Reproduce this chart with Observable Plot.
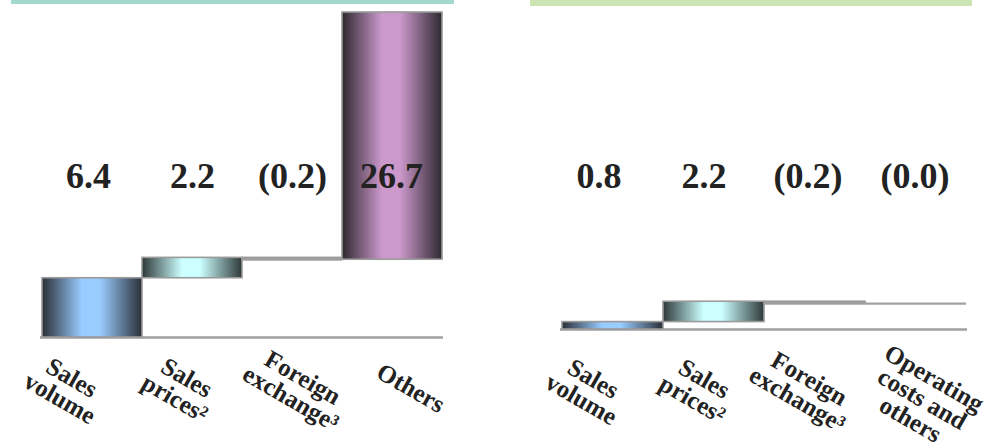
<!DOCTYPE html>
<html>
<head>
<meta charset="utf-8">
<script src="https://cdn.jsdelivr.net/npm/d3@7"></script>
<script src="https://cdn.jsdelivr.net/npm/@observablehq/plot@0.6"></script>
<style>
  html, body { margin: 0; padding: 0; background: #fff; }
  #wrap { position: relative; width: 990px; height: 448px; overflow: hidden; background: #fff; }
  #wrap svg { position: absolute; left: 0; top: 0; }
  .band { position: absolute; top: 0; }
</style>
</head>
<body>
<div id="wrap">
  <div class="band" style="left:11px;width:443px;height:4px;background:#a3d9cc"></div>
  <div class="band" style="left:530px;width:442px;height:6px;background:#cce3b3"></div>
</div>
<script>
// ---- data ----
const leftCategories = ["Sales\nvolume", "Sales\nprices²", "Foreign\nexchange³", "Others"];
const leftValues = [6.4, 2.2, -0.2, 26.7];
const leftLabels = ["6.4", "2.2", "(0.2)", "26.7"];

const rightCategories = ["Sales\nvolume", "Sales\nprices²", "Foreign\nexchange³", "Operating\ncosts and\nothers"];
const rightValues = [0.8, 2.2, -0.2, -0.0];
const rightLabels = ["0.8", "2.2", "(0.2)", "(0.0)"];

// ---- helpers ----
const gradients = [
  {id: "gBlue", dark: "#2a2f37", light: "#99ccff"},
  {id: "gCyan", dark: "#2e3838", light: "#ccffff"},
  {id: "gPink", dark: "#2e282e", light: "#cc99cc"}
];
const fillsLeft = ["url(#gBlue)", "url(#gCyan)", "#a0a0a0", "url(#gPink)"];
const fillsRight = ["url(#gBlue)", "url(#gCyan)", "#a0a0a0", "#a0a0a0"];

function waterfall(cats, vals, labels, fills) {
  const ends = d3.cumsum(vals);
  return cats.map((c, i) => ({
    cat: c, value: vals[i], label: labels[i], fill: fills[i],
    y1: i === 0 ? 0 : ends[i - 1], y2: ends[i]
  }));
}

const leftData = waterfall(leftCategories, leftValues, leftLabels, fillsLeft);
const rightData = waterfall(rightCategories, rightValues, rightLabels, fillsRight);
const yMax = d3.max(d3.cumsum(leftValues));

function addDefs(svg) {
  const defs = d3.select(svg).insert("defs", ":first-child");
  for (const g of gradients) {
    const lg = defs.append("linearGradient").attr("id", g.id)
      .attr("x1", "0%").attr("x2", "100%").attr("y1", "0%").attr("y2", "0%");
    lg.append("stop").attr("offset", "0%").attr("stop-color", g.dark);
    lg.append("stop").attr("offset", "40%").attr("stop-color", g.light);
    lg.append("stop").attr("offset", "58%").attr("stop-color", g.light);
    lg.append("stop").attr("offset", "100%").attr("stop-color", g.dark);
  }
}

const serif = "Liberation Serif";

function panel(data, cats, L) {
  const svg = Plot.plot({
    width: 990,
    height: 448,
    marginLeft: L.left,
    marginRight: L.right,
    marginTop: L.top,
    marginBottom: L.bottom,
    style: {background: "transparent", fontFamily: serif},
    x: {type: "band", domain: cats, padding: 0, axis: null},
    y: {domain: [0, yMax], axis: null},
    marks: [
      Plot.ruleY([0], {stroke: "#a0a0a0", strokeWidth: 2.5}),
      Plot.barY(data, {
        x: "cat", y1: "y1", y2: "y2",
        fill: d => d.fill, stroke: "#9a9a9a", strokeWidth: 1.6, inset: 0
      }),
      Plot.tickY(data.filter((d, i) => i > 0 && Math.abs(d.value) < 0.5), {
        x: "cat", y: "y2", stroke: "#a0a0a0", strokeWidth: 2.2
      }),
      ...data.map((d, i) => Plot.text([d], {
        x: "cat", text: "label", frameAnchor: "top", dy: L.valueDy, dx: L.valueDx[i],
        fontSize: 36, fontWeight: "bold", fill: "#222", lineAnchor: "middle",
        fontFamily: serif
      })),
      ...data.map((d, i) => Plot.text([d], {
        x: "cat", text: "cat", frameAnchor: "bottom", dy: L.catDy[i], dx: L.catDx[i],
        rotate: 30, fontSize: 25, fontWeight: "bold", fill: "#222",
        lineAnchor: "middle", lineHeight: 0.95, textAnchor: "middle",
        fontFamily: serif
      }))
    ]
  });
  addDefs(svg);
  return svg;
}

const wrap = document.getElementById("wrap");
wrap.appendChild(panel(leftData, leftCategories, {
  left: 40, right: 547, top: 12, bottom: 111,
  valueDy: 164, valueDx: [-4, 0, 0, -1],
  catDy: [51, 51, 51, 51], catDx: [-27, -12, 4, 18]
}));
wrap.appendChild(panel(rightData, rightCategories, {
  left: 560, right: 23, top: 4, bottom: 119,
  valueDy: 172, valueDx: [-14, -10, -7, -1],
  catDy: [60, 60, 60, 70], catDx: [-26, -16, -12, 6]
}));
</script>
</body>
</html>
